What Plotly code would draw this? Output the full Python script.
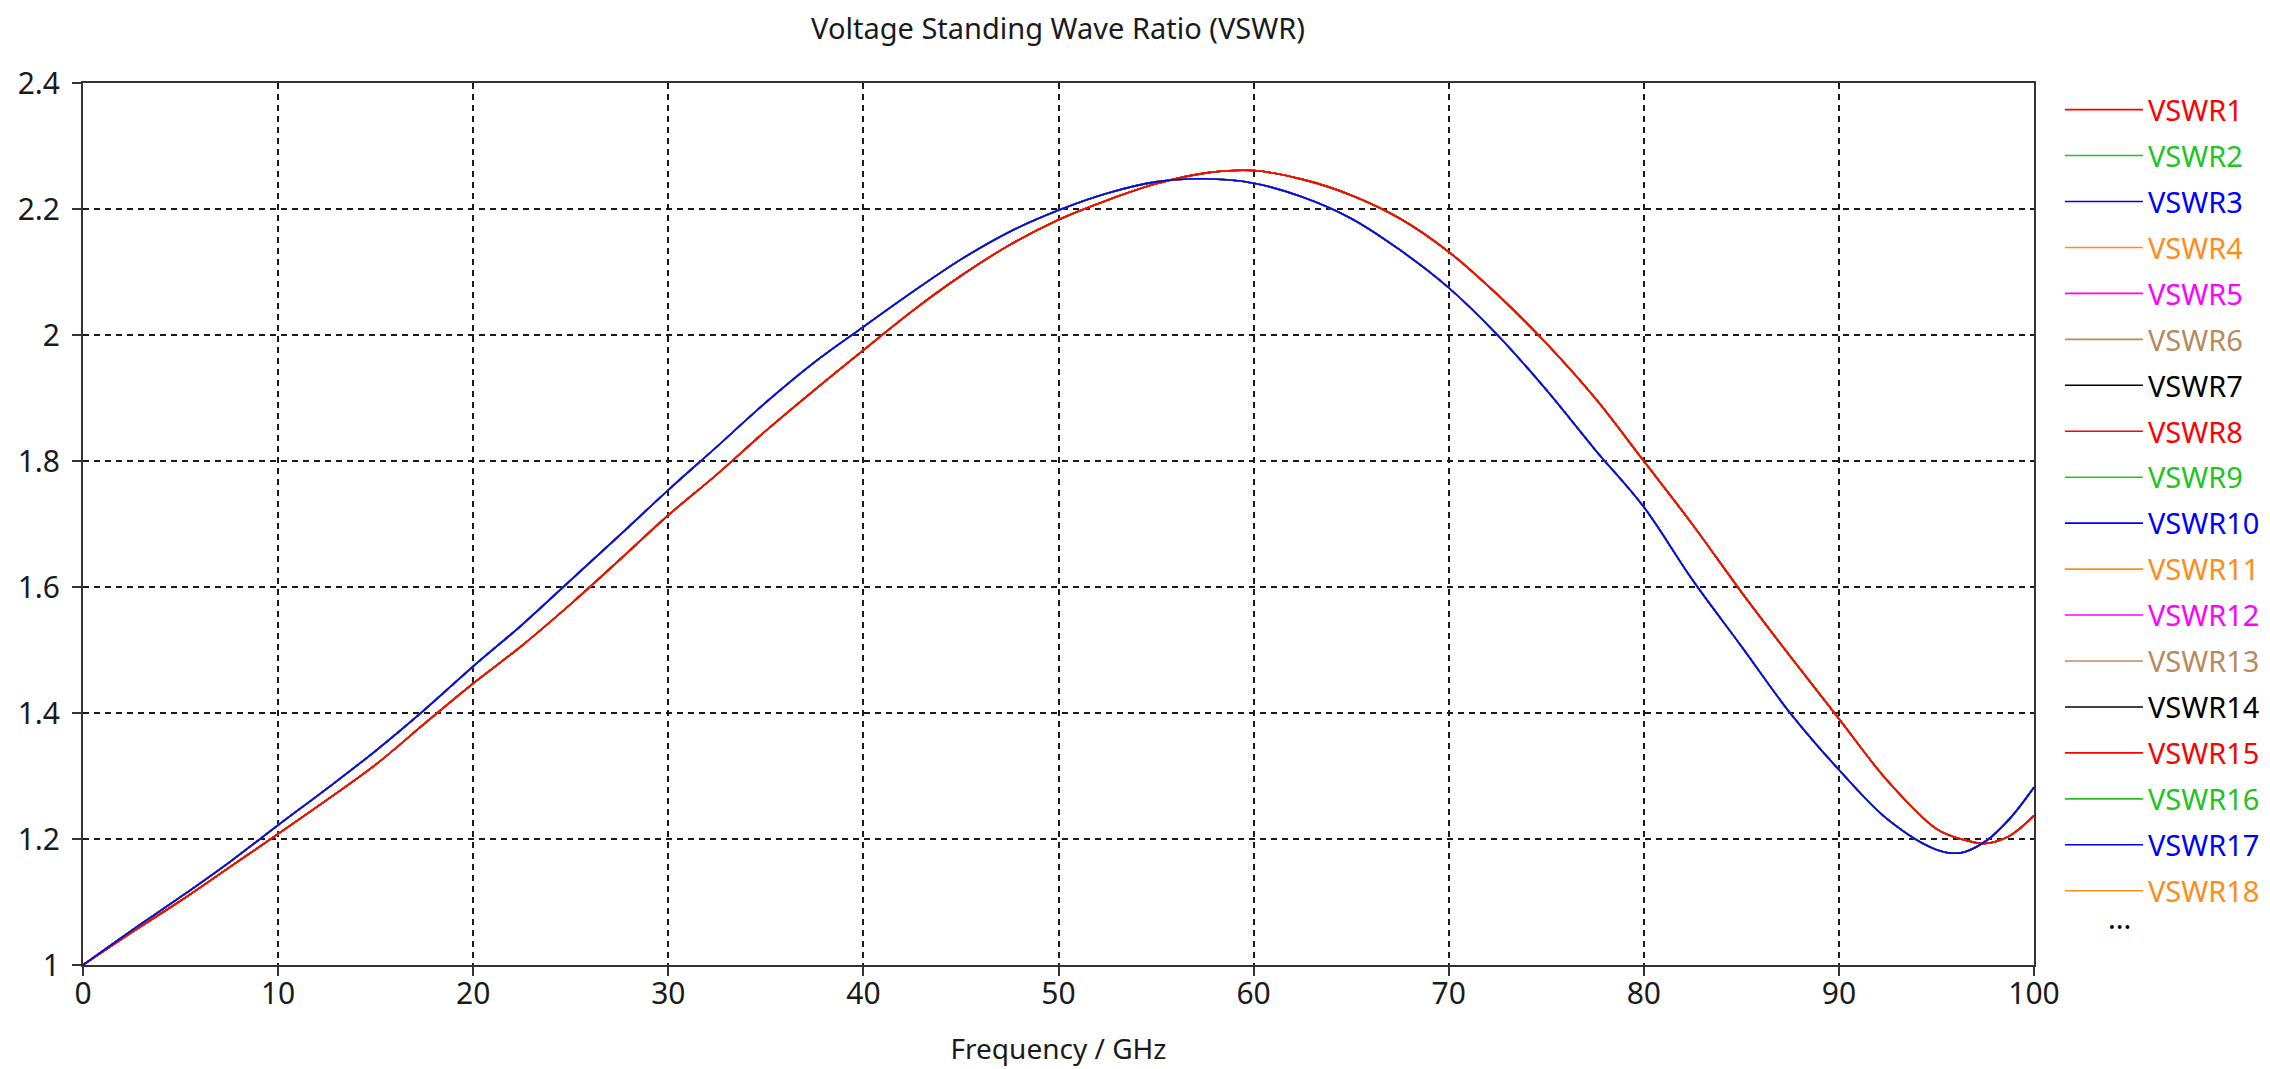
import plotly.graph_objects as go

# Frequency points (GHz)
freq = [0, 2.5, 5, 7.5, 10, 12.5, 15, 17.5, 20, 22.5, 25, 27.5, 30, 32.5, 35, 37.5,
        40, 42.5, 45, 47.5, 50, 52.5, 55, 57.5, 60, 62.5, 65, 67.5, 70, 72.5, 75,
        77.5, 80, 82.5, 85, 87.5, 90, 92.5, 95, 96.25, 97.5, 98.75, 100]

# Curve family A (red-topped)
vswr_a = [1.000, 1.052, 1.102, 1.155, 1.208, 1.262, 1.318, 1.383, 1.447, 1.507,
          1.573, 1.643, 1.714, 1.779, 1.848, 1.913, 1.976, 2.038, 2.094, 2.143,
          2.183, 2.214, 2.240, 2.257, 2.261, 2.247, 2.222, 2.185, 2.132, 2.064,
          1.987, 1.900, 1.800, 1.699, 1.592, 1.490, 1.391, 1.292, 1.216, 1.200,
          1.193, 1.205, 1.237]

# Curve family B (blue-topped)
vswr_b = [1.000, 1.055, 1.108, 1.163, 1.222, 1.280, 1.340, 1.405, 1.474, 1.540,
          1.611, 1.682, 1.754, 1.823, 1.893, 1.957, 2.013, 2.068, 2.120, 2.164,
          2.198, 2.225, 2.243, 2.248, 2.241, 2.219, 2.185, 2.135, 2.075, 2.000,
          1.913, 1.818, 1.727, 1.611, 1.506, 1.400, 1.310, 1.231, 1.183, 1.178,
          1.196, 1.232, 1.282]

names = ["VSWR%d" % i for i in range(1, 19)]
colors = ["#FF0000", "#22C322", "#0000FF", "#FF8C1A", "#FF00FF", "#B88A5C", "#000000",
          "#FF0000", "#22C322", "#0000FF", "#FF8C1A", "#FF00FF", "#B88A5C", "#000000",
          "#FF0000", "#22C322", "#0000FF", "#FF8C1A"]
family = ["A", "B", "B", "A", "B", "B", "A", "A", "B", "B", "A", "B", "B", "A",
          "A", "B", "B", "A"]

# drawing order: put VSWR15 (red, A) and VSWR17 (blue, B) on top
draw_order = [i for i in range(18) if i not in (14, 16)] + [14, 16]

FONT = "Noto Sans"
fig = go.Figure()
for i in draw_order:
    y = vswr_a if family[i] == "A" else vswr_b
    fig.add_trace(go.Scatter(
        x=freq, y=y, mode="lines", line=dict(color=colors[i], width=1.6, shape="spline"),
        name="<span style='color:%s'>%s</span>" % (colors[i], names[i]),
        legendrank=i + 1, legendgroup=names[i], hoverinfo="x+y+name"))

grid = dict(showgrid=True, gridcolor="#1a1a1a", gridwidth=1.5, griddash="6px,5px",
            showline=True, linecolor="#333333", linewidth=2, mirror=True,
            ticks="outside", ticklen=9, tickwidth=2, tickcolor="#333333",
            zeroline=False, tickfont=dict(family=FONT, size=30, color="#1a1a1a"))

fig.update_layout(
    width=2262, height=1061,
    margin=dict(l=75, r=236, t=75, b=104, autoexpand=False),
    paper_bgcolor="white", plot_bgcolor="white",
    title=dict(text="Voltage Standing Wave Ratio (VSWR)", x=0.4642, xanchor="center",
               y=0.9895, yanchor="top", font=dict(family=FONT, size=29, color="#1a1a1a")),
    xaxis=dict(range=[0, 100], dtick=10, tick0=0, ticklabelstandoff=-8,
               title=dict(text="Frequency / GHz", font=dict(family=FONT, size=28, color="#1a1a1a"),
                          standoff=27), **grid),
    yaxis=dict(range=[1, 2.4], dtick=0.2, tick0=1, ticklabelstandoff=6, **grid),
    legend=dict(x=1.0133, y=0.9986, xanchor="left", yanchor="top",
                font=dict(family=FONT, size=29), itemwidth=78, maxheight=1000,
                tracegroupgap=5.25, bgcolor="rgba(0,0,0,0)"),
    showlegend=True,
    annotations=[dict(text="...", x=1.0505, y=0.029, xref="paper", yref="paper",
                      showarrow=False, font=dict(family=FONT, size=29, color="#000000"))],
)

fig.write_html("out.html")
